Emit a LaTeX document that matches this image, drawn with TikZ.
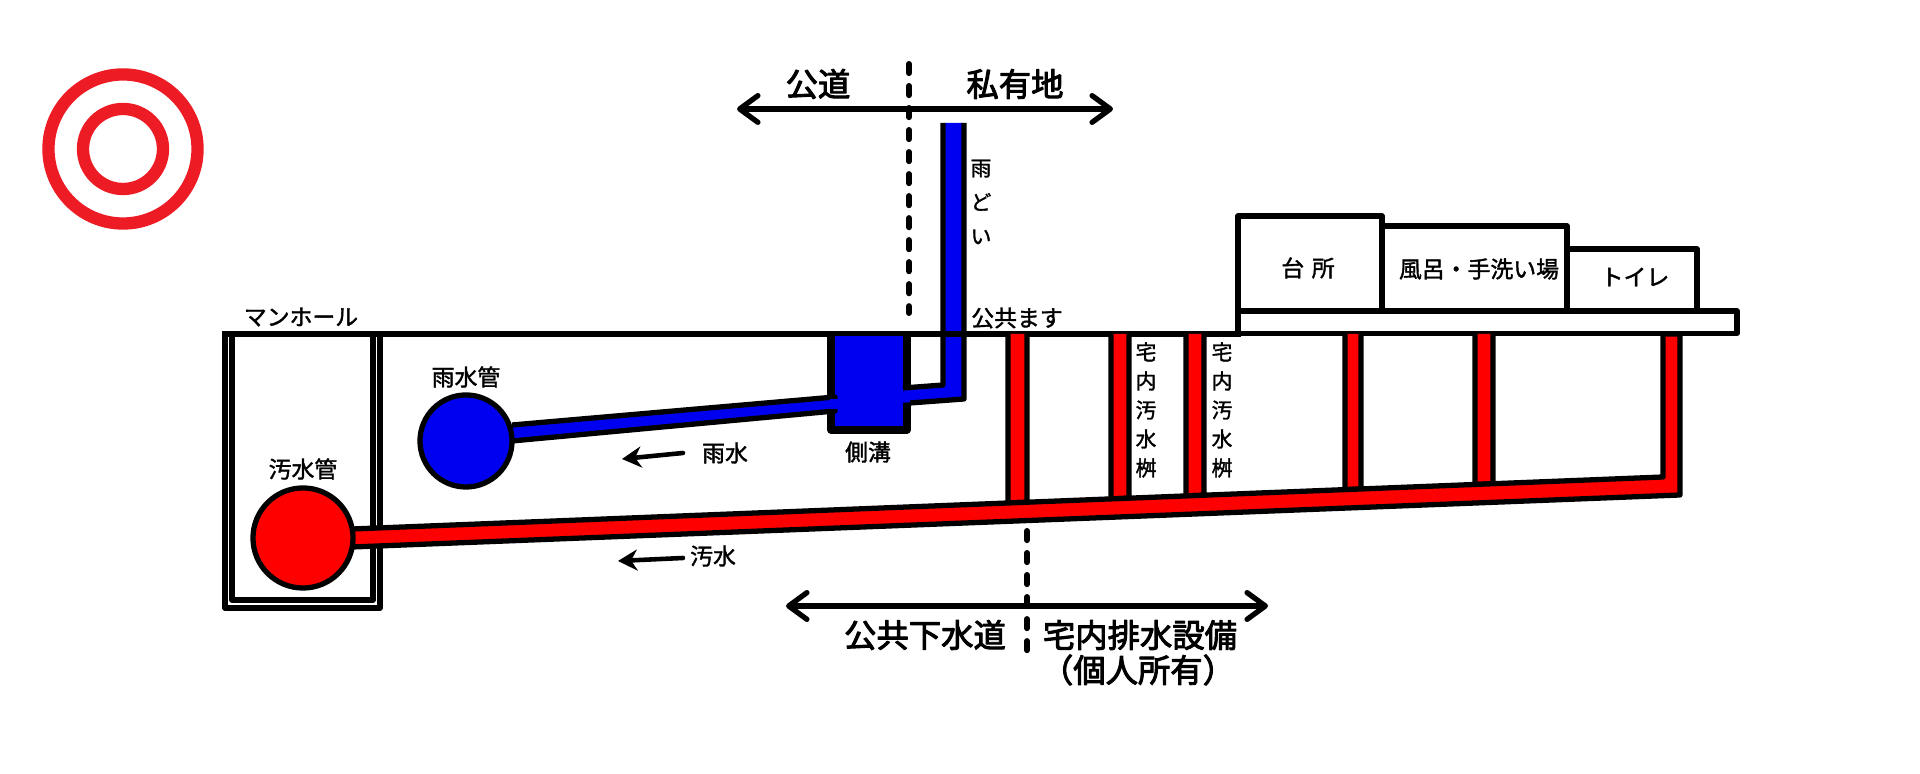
\documentclass[tikz,border=0pt]{standalone}
\usepackage{fontspec}
\usepackage{xcolor}
\usetikzlibrary{arrows.meta}
\newfontfamily\jp[FakeBold=1.6]{Noto Sans CJK JP}
\newfontfamily\jpbig[FakeBold=3]{Noto Sans CJK JP}
\definecolor{ringred}{RGB}{237,28,36}
\definecolor{rainblue}{RGB}{0,0,240}
\definecolor{sewred}{RGB}{255,0,0}

\begin{document}
\begin{tikzpicture}[x=0.01cm,y=-0.01cm,line join=round,
  wall/.style={draw,line width=1.5pt},
  pipe/.style={wall,fill=sewred},
  rain/.style={wall,fill=rainblue},
  ring/.style={draw=ringred,line width=3.5pt,circle,inner sep=0pt,outer sep=0pt},
  disc/.style={draw,line width=1.5pt,circle,inner sep=0pt,outer sep=0pt},
  lab/.style={font=\jp\fontsize{6.5}{8}\selectfont,inner sep=0pt},
  big/.style={font=\jpbig\fontsize{9.2}{10}\selectfont,inner sep=0pt},
  tate/.style={font=\jp\fontsize{5.9}{8.25}\selectfont,inner sep=0pt,align=center},
  span/.style={line width=1.5pt,line cap=round,{Straight Barb[length=5.2pt,width=7.6pt,round]}-{Straight Barb[length=5.2pt,width=7.6pt,round]}},
  flow/.style={line width=1.3pt,line cap=round,-{Stealth[length=5.5pt,width=6pt]}},
  border/.style={line width=1.7pt,line cap=round,dash pattern=on 2.6pt off 3.66pt}]
  \useasboundingbox (0,0) rectangle (1920,774);
  % mark
  \node[ring,minimum size=1.49cm] (outerring) at (123,149) {};
  \node[ring,minimum size=0.8cm] (innerring) at (123,149) {};
  % manhole
  \draw[wall] (225,334) -- (225,608) -- (380,608) -- (380,334);
  \draw[wall] (232,334) -- (232,600) -- (373,600) -- (373,334);
  % ground
  \draw[wall,line cap=rect] (225,334) -- (1238,334);
  % house
  \draw[wall] (1238,311) rectangle (1382,216);
  \draw[wall] (1382,311) rectangle (1567,226);
  \draw[wall] (1567,311) rectangle (1697,249);
  \draw[wall] (1238,333.5) rectangle (1737,311);
  % rain side
  \fill[rainblue] (835,336) rectangle (903,427);
  \draw[line width=2pt] (831,334) -- (831,430) -- (907,430) -- (907,334);
  \draw[rain] (512,425) -- (835,397) -- (835,411) -- (512,441);
  \fill[rainblue] (830,399) rectangle (838,409);
  \fill[rainblue] (945,123) -- (963,123) -- (963,398) -- (900,403) -- (900,389) -- (945,385) -- cycle;
  \draw[wall] (943,123) -- (943,385) -- (903,388);
  \draw[wall] (964,123) -- (964,399) -- (910,403);
  \draw[wall] (943,334) -- (964,334);
  % sewer branches
  \foreach \xa/\xb in {1008/1027,1111/1129,1186/1204,1345/1361,1475/1493}
    \draw[pipe] (\xa,334) -- (\xa,{529-0.0397*(\xa-353)}) -- (\xb,{529-0.0397*(\xb-353)}) -- (\xb,334);
  % main sewer
  \draw[pipe] (345,529.3) -- (1663,477) -- (1663,334) -- (1680,334) -- (1680,495) -- (345,547.3) -- cycle;
  \node[disc,fill=rainblue,minimum size=0.92cm] (rainpipe) at (466,441) {};
  \node[disc,fill=sewred,minimum size=1cm] (sewpipe) at (303,538) {};
  % boundaries
  \draw[border] (909,64) -- (909,313);
  \draw[border] (1027,531) -- (1027,656);
  \draw[span] (737,109) -- (1113,109);
  \draw[span] (786,606) -- (1268,606);
  \draw[flow] (683,453) -- (622,459);
  \draw[flow] (683,558) -- (618,561);
  % labels
  \node[big] (road) at (818,84) {公道};
  \node[big] (priv) at (1015,84) {私有地};
  \node[big] (pubsew) at (925,635) {公共下水道};
  \node[big] (homesew) at (1140,635) {宅内排水設備};
  \node[big] (owned) at (1138,670) {（個人所有）};
  \node[lab] (mh) at (301,317) {マンホール};
  \node[lab] (rainlab) at (466,377) {雨水管};
  \node[lab] (sewlab) at (303,469) {汚水管};
  \node[lab] (rainflow) at (725,453) {雨水};
  \node[lab] (sewflow) at (713,556) {汚水};
  \node[lab] (ditch) at (868,452) {側溝};
  \node[lab] (pubbox) at (1017,318) {公共ます};
  \node[lab] (kitchen) at (1308,268) {台\,\,所};
  \node[lab] (bath) at (1479,269) {風呂・手洗い場};
  \node[lab] (toilet) at (1635,277) {トイレ};
  \node[tate,font=\jp\fontsize{5.9}{9.7}\selectfont] (gutter) at (981,202) {雨\\ど\\い};
  \node[tate] (boxa) at (1146,410) {宅\\内\\汚\\水\\桝};
  \node[tate] (boxb) at (1222,410) {宅\\内\\汚\\水\\桝};
\end{tikzpicture}
\end{document}
